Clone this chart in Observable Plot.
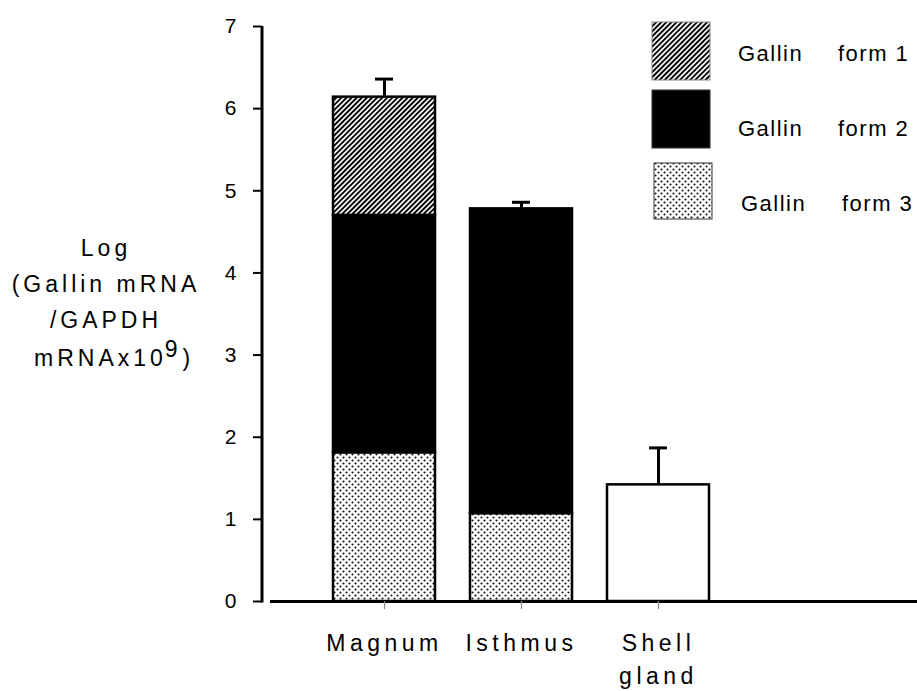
<!DOCTYPE html>
<html>
<head>
<meta charset="utf-8">
<script src="https://cdn.jsdelivr.net/npm/d3@7"></script>
<script src="https://cdn.jsdelivr.net/npm/@observablehq/plot@0.6"></script>
<style>
  body { margin: 0; background: #fff; }
  #wrap { position: relative; width: 917px; height: 691px; font-family: "Liberation Sans", Arial, sans-serif; color: #000; }
  #wrap > svg { position: absolute; left: 0; top: 0; }
</style>
</head>
<body>
<svg width="0" height="0" style="position:absolute">
  <defs>
    <pattern id="hatch" patternUnits="userSpaceOnUse" width="3.6" height="3.6" patternTransform="rotate(45)">
      <rect width="3.6" height="3.6" fill="#fff"></rect>
      <rect width="1.9" height="3.6" fill="#000"></rect>
    </pattern>
    <pattern id="dots" patternUnits="userSpaceOnUse" width="6" height="6">
      <rect width="6" height="6" fill="#fff"></rect>
      <circle cx="1.5" cy="1.5" r="1.05" fill="#111"></circle>
      <circle cx="4.5" cy="4.5" r="1.05" fill="#111"></circle>
    </pattern>
  </defs>
</svg>
<div id="wrap"></div>
<script>
// ---- data ----
const tissues = ["Magnum", "Isthmus", "Shell gland"];
const tissueLabels = ["Magnum", "Isthmus", "Shell\ngland"];
const seriesNames = ["Gallin form 3", "Gallin form 2", "Gallin form 1", "Total"];
const form3 = [1.81, 1.07, 0];
const form2 = [2.89, 3.71, 0];
const form1 = [1.44, 0, 0];
const total = [0, 0, 1.42];
const errorTop = [6.36, 4.86, 1.87];
const yTicks = [0, 1, 2, 3, 4, 5, 6, 7];
const legendNames = ["Gallin", "Gallin", "Gallin"];
const legendForms = ["form 1", "form 2", "form 3"];
const legendFills = ["url(#hatch)", "#000", "url(#dots)"];
const yTitleLines = ["Log", "(Gallin mRNA", "/GAPDH"];

// ---- build tables ----
const seriesValues = [form3, form2, form1, total];
const rows = [];
tissues.forEach((t, i) => {
  seriesNames.forEach((s, j) => {
    if (seriesValues[j][i] > 0) rows.push({tissue: t, form: s, value: seriesValues[j][i]});
  });
});
const errs = tissues.map((t, i) => ({
  tissue: t,
  top: d3.sum(seriesValues, v => v[i]),
  err: errorTop[i]
}));

const yAxisLine = (index, scales, values, dimensions) => {
  const y = scales.y;
  const ml = dimensions.marginLeft;
  const g = document.createElementNS("http://www.w3.org/2000/svg", "line");
  g.setAttribute("x1", ml - 8);
  g.setAttribute("x2", ml - 8);
  g.setAttribute("y1", y(yTicks[yTicks.length - 1]));
  g.setAttribute("y2", y(0) + 1.5);
  g.setAttribute("stroke", "#000");
  g.setAttribute("stroke-width", 3);
  return g;
};

const plot = Plot.plot({
  width: 917,
  height: 691,
  marginLeft: 270,
  marginRight: 0,
  marginTop: 26,
  marginBottom: 90,
  x: {domain: tissues, paddingInner: 0.2555, paddingOuter: 0.989, align: 0.2325, axis: null},
  y: {domain: [0, 7], axis: null},
  color: {type: "ordinal", domain: seriesNames, range: ["url(#dots)", "#000", "url(#hatch)", "#fff"]},
  style: {fontFamily: "Liberation Sans, Arial, sans-serif", color: "#000", background: "transparent", overflow: "visible"},
  marks: [
    Plot.barY(rows, {x: "tissue", y: "value", fill: "form", stroke: "#000", strokeWidth: 2.5}),
    Plot.ruleX(errs, {x: "tissue", y1: "top", y2: "err", stroke: "#000", strokeWidth: 3}),
    Plot.tickY(errs, {x: "tissue", y: "err", stroke: "#000", strokeWidth: 3, insetLeft: 42, insetRight: 42}),
    Plot.ruleY([0], {stroke: "#000", strokeWidth: 3}),
    Plot.axisX({tickSize: 8, stroke: "#888", strokeWidth: 1.2, tickFormat: () => "", label: null}),
    Plot.axisY({ticks: yTicks, tickSize: 9, tickPadding: 17, dx: -8, strokeWidth: 2, fontSize: 21, label: null, tickFormat: d3.format("d")}),
    Plot.text(tissues, {x: d => d, text: (d, i) => tissueLabels[i], frameAnchor: "bottom", lineAnchor: "top", dy: 25, fontSize: 23, lineHeight: 1.47}),
    yAxisLine
  ]
});
const labelSet = new Set(tissueLabels.map(d => d.replace("\n", "")));
d3.select(plot).selectAll("text")
  .filter(function() { return labelSet.has(this.textContent); })
  .attr("letter-spacing", 4.5);
document.getElementById("wrap").appendChild(plot);

// ---- overlay: y-axis title and legend ----
const ov = d3.select("#wrap").append("svg")
  .attr("width", 917).attr("height", 691)
  .style("pointer-events", "none")
  .attr("font-family", "Liberation Sans, Arial, sans-serif")
  .attr("font-size", 23);

const titleBaselines = [256, 292, 328];
ov.append("g").attr("letter-spacing", 4).attr("text-anchor", "middle")
  .selectAll("text").data(yTitleLines).join("text")
  .attr("x", 106).attr("y", (d, i) => titleBaselines[i]).text(d => d);
const last = ov.append("text").attr("x", 34).attr("y", 366).attr("letter-spacing", 4);
last.append("tspan").text("mRNAx10");
last.append("tspan").attr("dx", -2).attr("dy", -9).text("9");
last.append("tspan").attr("dx", 1).attr("dy", 9).text(")");

const legendTops = [22, 90, 163];
const legendBase = [61, 136, 211];
const legendTextX = [738, 738, 741];
const legendFormX = [838, 838, 842];
const lg = ov.append("g").attr("font-size", 22);
lg.selectAll("rect").data(legendFills).join("rect")
  .attr("x", (d, i) => i === 2 ? 654 : 652).attr("y", (d, i) => legendTops[i])
  .attr("width", 58).attr("height", (d, i) => i === 2 ? 56 : 58)
  .attr("fill", d => d).attr("stroke", (d, i) => i === 0 ? "#888" : "#333").attr("stroke-width", 1);
lg.selectAll("text.n").data(legendNames).join("text").attr("class", "n")
  .attr("x", (d, i) => legendTextX[i]).attr("y", (d, i) => legendBase[i])
  .attr("letter-spacing", 1.5).text(d => d);
lg.selectAll("text.f").data(legendForms).join("text").attr("class", "f")
  .attr("x", (d, i) => legendFormX[i]).attr("y", (d, i) => legendBase[i])
  .attr("letter-spacing", 1.5).text(d => d);
</script>
</body>
</html>
